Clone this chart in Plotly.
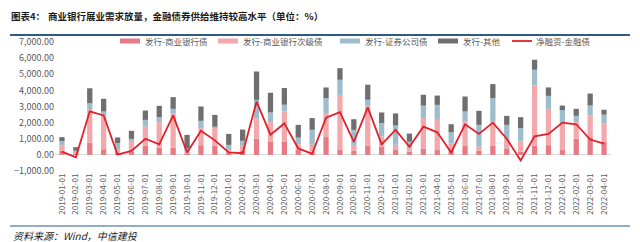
import plotly.graph_objects as go

months = [f"{y}-{m:02d}-01" for y in (2019, 2020, 2021, 2022) for m in range(1, 13)][:40]

comm = [250, 100, 750, 350, 150, 200, 560, 450, 450, 100, 600, 580,
        150, 250, 1000, 800, 800, 300, 200, 1100, 300, 250, 580, 500,
        300, 200, 400, 300, 300, 550, 250, 580, 400, 200, 580, 600,
        300, 1000, 1100, 800]
sub = [330, 80, 2050, 2130, 170, 710, 1200, 1580, 2135, 110, 1060, 1125,
       160, 310, 1270, 1230, 1900, 360, 425, 1490, 3425, 370, 2430, 640,
       325, 210, 1890, 1870, 420, 1520, 260, 1490, 530, 630, 3730, 2250,
       1660, 1030, 1340, 1170]
sec = [270, 100, 400, 210, 410, 80, 410, 310, 270, 200, 450, 50,
       310, 310, 1140, 600, 410, 410, 930, 930, 930, 930, 410, 830,
       1200, 410, 760, 930, 680, 620, 1350, 1450, 930, 830, 970, 810,
       810, 390, 620, 520]
other = [250, 200, 930, 790, 350, 500, 580, 700, 725, 830, 890, 725,
         680, 700, 1760, 1220, 1035, 790, 725, 660, 725, 660, 930, 660,
         745, 500, 680, 580, 500, 930, 870, 870, 560, 680, 620, 520,
         290, 435, 745, 310]
net = [200, -150, 2700, 2450, 20, 250, 1000, 650, 2450, 150, 1500, 900,
       150, 100, 3300, 1250, 1950, 400, 60, 2300, 2650, 800, 2950, 650,
       1550, 500, 1750, 1400, 150, 1900, 1300, 2000, 1000, -350, 1150, 1300,
       2000, 1900, 950, 700]

names = ["发行-商业银行债", "发行-商业银行次级债", "发行-证券公司债", "发行-其他", "净融资-金融债"]
colors = ["#e67b84", "#f3a9ac", "#9dbdcd", "#6f6f6f", "#e0202a"]

FONT = "Noto Sans CJK SC"
L, R, T, B = 55, 611, 42, 171
W, H = 640, 242
px = lambda x: (x - L) / (R - L)
py = lambda y: (B - y) / (B - T)

fig = go.Figure()
for vals, nm, c in zip([comm, sub, sec, other], names[:4], colors[:4]):
    fig.add_trace(go.Bar(x=months, y=vals, name=nm, marker=dict(color=c, line=dict(width=0))))
fig.add_trace(go.Scatter(x=months, y=net, name=names[4], mode="lines",
                         line=dict(color=colors[4], width=1.8)))

# manual legend (swatch x-start, text x-start)
leg_pos = [(120, 143), (218, 241), (340, 363), (438, 461), (512, 534)]
shapes = [
    dict(type="line", xref="paper", yref="paper", x0=px(10), x1=px(630), y0=py(35), y1=py(35),
         line=dict(color="#2e5a87", width=2)),
    dict(type="line", xref="paper", yref="paper", x0=px(10), x1=px(630), y0=py(226), y1=py(226),
         line=dict(color="#2e5a87", width=1.2)),
]
annotations = [
    dict(text="<b>图表4：</b>", xref="paper", yref="paper", x=px(9), y=py(16),
         xanchor="left", yanchor="middle", showarrow=False,
         font=dict(family=FONT, size=9.5, color="#1a1a1a")),
    dict(text="<b>商业银行展业需求放量，金融债券供给维持较高水平（单位：%）</b>", xref="paper", yref="paper",
         x=px(46), y=py(16), xanchor="left", yanchor="middle", showarrow=False,
         font=dict(family=FONT, size=9.5, color="#1a1a1a")),
    dict(text="资料来源：Wind，中信建投 ", xref="paper", yref="paper", x=px(11), y=py(235),
         xanchor="left", yanchor="middle", showarrow=False,
         font=dict(family=FONT, size=10, color="#1a1a1a", style="italic")),
]
for (sx, tx), nm, c, w in zip(leg_pos, names, colors, [5, 5, 5, 5, 1.8]):
    shapes.append(dict(type="line", xref="paper", yref="paper", x0=px(sx), x1=px(sx + 20),
                       y0=py(41), y1=py(41), line=dict(color=c, width=w)))
    annotations.append(dict(text=nm, xref="paper", yref="paper", x=px(tx), y=py(41),
                            xanchor="left", yanchor="middle", showarrow=False,
                            font=dict(family=FONT, size=8.5, color="#595959")))

fig.update_layout(
    width=W, height=H,
    margin=dict(l=L, r=W - R, t=T, b=H - B),
    paper_bgcolor="white", plot_bgcolor="white",
    barmode="relative", bargap=0.62,
    font=dict(family=FONT, size=9, color="#595959"),
    showlegend=False,
    xaxis=dict(type="category", tickangle=-90, tickfont=dict(size=8, color="#595959"),
               showgrid=False, showline=False, ticks="", automargin=False),
    yaxis=dict(range=[-1000, 7000], dtick=1000, tickformat=",.2f", showgrid=False,
               zeroline=True, zerolinecolor="#d9d9d9", zerolinewidth=1,
               showline=False, ticks="", tickfont=dict(size=9, color="#595959"),
               automargin=False),
    shapes=shapes,
    annotations=annotations,
)

fig.write_html("out.html")
